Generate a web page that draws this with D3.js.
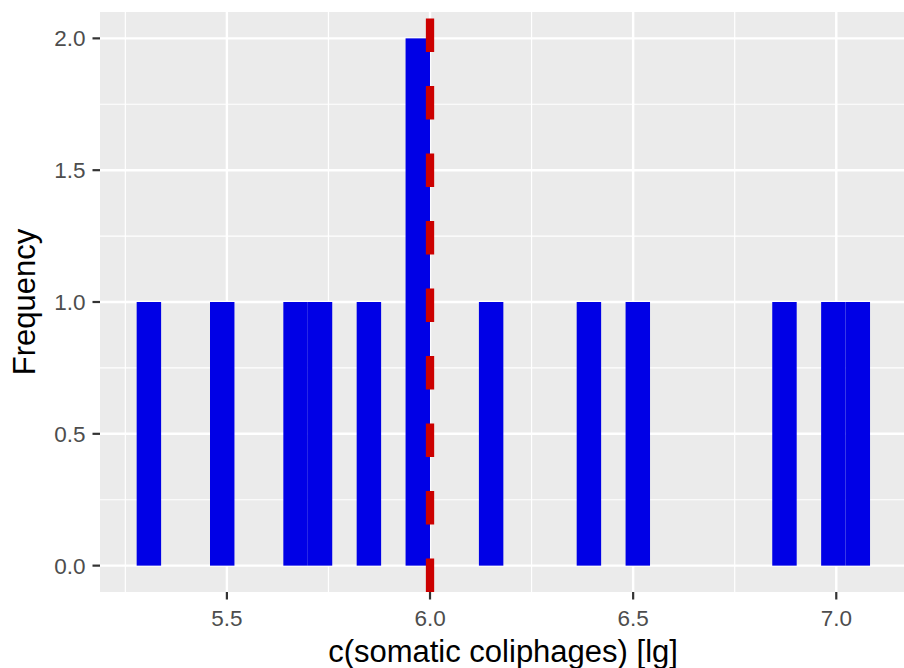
<!DOCTYPE html>
<html>
<head>
<meta charset="utf-8">
<script src="https://cdn.jsdelivr.net/npm/d3@7.9.0/dist/d3.min.js"></script>
<style>
  body { margin: 0; background: #fff; }
  svg text { font-family: "Liberation Sans", Arial, sans-serif; }
</style>
</head>
<body>
<svg width="904" height="668"></svg>
<script>
const values = [5.308, 5.489, 5.669, 5.729, 5.850, 5.962, 5.995, 6.150, 6.391, 6.511, 6.872, 6.993, 7.053];
const binCount = 30;
const threshold = 6.0;
const xTicks = [5.5, 6.0, 6.5, 7.0];
const xMinor = [5.25, 5.75, 6.25, 6.75, 7.25];
const yTicks = [0, 0.5, 1.0, 1.5, 2.0];
const yMinor = [0.25, 0.75, 1.25, 1.75];

const svg = d3.select('svg');
const panel = { left: 100, right: 906.7, top: 12, bottom: 592 };

// ggplot-style bins: first/last bins centred on min/max
const [vMin, vMax] = d3.extent(values);
const bw = (vMax - vMin) / (binCount - 1);
const edges = d3.range(binCount + 1).map(i => vMin - bw / 2 + i * bw);
const bins = d3.bin()
  .domain([edges[0], edges[binCount]])
  .thresholds(edges.slice(1, -1))(values);

const lo = edges[0], hi = edges[binCount], pad = (hi - lo) * 0.05;
const x = d3.scaleLinear().domain([lo - pad, hi + pad]).range([panel.left, panel.right]);
const yMax = d3.max(bins, d => d.length);
const y = d3.scaleLinear().domain([-0.1 * yMax / 2, yMax + 0.1 * yMax / 2]).range([panel.bottom, panel.top]);

svg.append('clipPath').attr('id', 'clip')
  .append('rect')
  .attr('x', panel.left).attr('y', panel.top)
  .attr('width', panel.right - panel.left).attr('height', panel.bottom - panel.top);

const g = svg.append('g').attr('clip-path', 'url(#clip)');

// Panel background
g.append('rect')
  .attr('x', panel.left).attr('y', panel.top)
  .attr('width', panel.right - panel.left).attr('height', panel.bottom - panel.top)
  .attr('fill', '#EBEBEB');

// Grid lines
g.selectAll('.xminor').data(xMinor).join('line')
  .attr('x1', d => x(d)).attr('x2', d => x(d))
  .attr('y1', panel.top).attr('y2', panel.bottom)
  .attr('stroke', '#fff').attr('stroke-width', 1.2);
g.selectAll('.yminor').data(yMinor).join('line')
  .attr('y1', d => y(d)).attr('y2', d => y(d))
  .attr('x1', panel.left).attr('x2', panel.right)
  .attr('stroke', '#fff').attr('stroke-width', 1.2);
g.selectAll('.xmajor').data(xTicks).join('line')
  .attr('x1', d => x(d)).attr('x2', d => x(d))
  .attr('y1', panel.top).attr('y2', panel.bottom)
  .attr('stroke', '#fff').attr('stroke-width', 2.4);
g.selectAll('.ymajor').data(yTicks).join('line')
  .attr('y1', d => y(d)).attr('y2', d => y(d))
  .attr('x1', panel.left).attr('x2', panel.right)
  .attr('stroke', '#fff').attr('stroke-width', 2.4);

// Bars
g.selectAll('.bar').data(bins.filter(b => b.length > 0)).join('rect')
  .attr('x', d => x(d.x0))
  .attr('width', d => x(d.x1) - x(d.x0))
  .attr('y', d => y(d.length))
  .attr('height', d => y(0) - y(d.length))
  .attr('fill', '#0000E6');

// Reference line
g.append('line')
  .attr('x1', x(threshold)).attr('x2', x(threshold))
  .attr('y1', panel.bottom).attr('y2', panel.top)
  .attr('stroke', '#CC0000')
  .attr('stroke-width', 8.3)
  .attr('stroke-dasharray', '33.5,34');

// Axis ticks and labels
svg.selectAll('.xtick').data(xTicks).join('line')
  .attr('x1', d => x(d)).attr('x2', d => x(d))
  .attr('y1', panel.bottom).attr('y2', panel.bottom + 7.5)
  .attr('stroke', '#333').attr('stroke-width', 2.2);
svg.selectAll('.xlab').data(xTicks).join('text')
  .attr('x', d => x(d)).attr('y', 626)
  .attr('text-anchor', 'middle')
  .attr('font-size', 22.5).attr('fill', '#4D4D4D')
  .text(d => d3.format('.1f')(d));

svg.selectAll('.ytick').data(yTicks).join('line')
  .attr('y1', d => y(d)).attr('y2', d => y(d))
  .attr('x1', panel.left - 7.5).attr('x2', panel.left)
  .attr('stroke', '#333').attr('stroke-width', 2.2);
svg.selectAll('.ylab').data(yTicks).join('text')
  .attr('x', 85.5).attr('y', d => y(d))
  .attr('dy', '0.36em')
  .attr('text-anchor', 'end')
  .attr('font-size', 22.5).attr('fill', '#4D4D4D')
  .text(d => d3.format('.1f')(d));

// Axis titles
svg.append('text')
  .attr('x', (panel.left + 904) / 2 + 1).attr('y', 662)
  .attr('text-anchor', 'middle')
  .attr('font-size', 31).attr('fill', '#000')
  .text('c(somatic coliphages) [lg]');

svg.append('text')
  .attr('transform', `translate(35,${(panel.top + panel.bottom) / 2}) rotate(-90)`)
  .attr('text-anchor', 'middle')
  .attr('font-size', 31).attr('fill', '#000')
  .text('Frequency');
</script>
</body>
</html>
